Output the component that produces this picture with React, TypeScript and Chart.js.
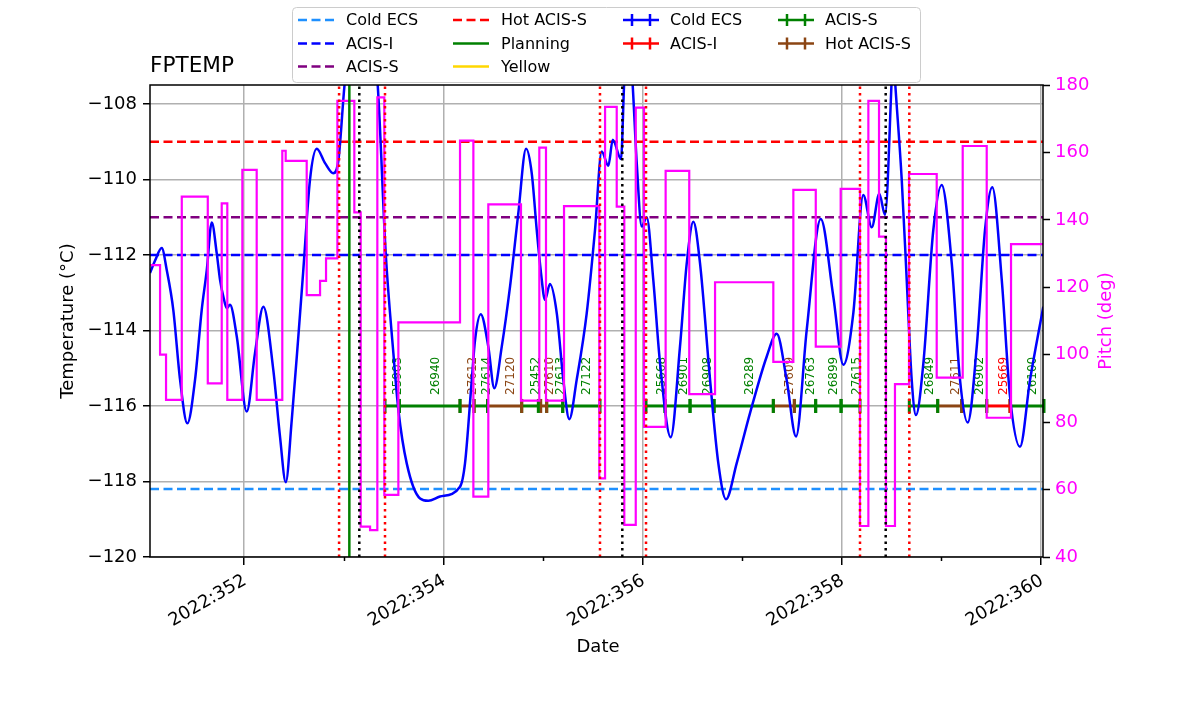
import React, { useEffect, useRef } from 'react';
import { Chart, registerables } from 'chart.js';

Chart.register(...registerables);
Chart.defaults.font.family = "'DejaVu Sans', sans-serif";

// ---- axis ranges & ticks ----
const X_MIN = 351.056;
const X_MAX = 360.02;
const TEMP_MIN = -120;
const TEMP_MAX = -107.5;
const PITCH_MIN = 40;
const PITCH_MAX = 180;
const xTickValues = [352, 353, 354, 355, 356, 357, 358, 359, 360];
const tempTickValues = [-120, -118, -116, -114, -112, -110, -108];
const pitchTickValues = [40, 60, 80, 100, 120, 140, 160, 180];

// ---- FPTEMP (day of year 2022) ----
const tempDays = [
  351.056, 351.107, 351.174, 351.224, 351.290, 351.358, 351.431, 351.508, 351.575, 351.626,
  351.676, 351.726, 351.759, 351.792, 351.826, 351.859, 351.927, 352.027, 352.110, 352.194,
  352.294, 352.361, 352.419, 352.479, 352.545, 352.595, 352.662, 352.730, 352.813, 352.896,
  352.947, 353.014, 353.174, 353.338, 353.422, 353.499, 353.549, 353.633, 353.767, 353.850,
  353.967, 354.168, 354.218, 354.286, 354.319, 354.376, 354.452, 354.512, 354.587, 354.670,
  354.753, 354.831, 354.888, 354.938, 354.981, 355.021, 355.071, 355.139, 355.205, 355.265,
  355.339, 355.440, 355.523, 355.590, 355.657, 355.701, 355.784, 355.817, 355.854, 355.898,
  355.942, 355.992, 356.042, 356.108, 356.176, 356.283, 356.376, 356.444, 356.510, 356.577,
  356.678, 356.761, 356.838, 356.945, 357.079, 357.247, 357.347, 357.447, 357.541, 357.648,
  357.789, 357.915, 358.016, 358.116, 358.216, 358.301, 358.377, 358.434, 358.501, 358.514,
  358.534, 358.602, 358.652, 358.702, 358.745, 358.819, 358.919, 359.003, 359.104, 359.187,
  359.264, 359.355, 359.438, 359.511, 359.606, 359.689, 359.789, 359.890, 360.023,
];
const tempValues = [
  -112.48, -112.15, -111.82, -112.40, -113.46, -115.31, -116.46, -115.31, -113.46, -112.40,
  -111.14, -111.96, -112.66, -113.10, -113.41, -113.32, -114.16, -116.15, -114.60, -113.37,
  -115.05, -116.81, -118.02, -116.37, -114.16, -112.40, -110.01, -109.19, -109.57, -109.84,
  -109.50, -107.36, -105.0, -107.36, -111.95, -114.60, -116.10, -117.52, -118.45, -118.51,
  -118.40, -118.14, -117.52, -115.31, -114.25, -113.57, -114.43, -115.53, -114.43, -112.84,
  -110.90, -109.19, -109.84, -111.34, -112.48, -113.19, -112.77, -113.54, -115.31, -116.35,
  -115.31, -113.54, -111.34, -109.26, -109.64, -108.95, -109.46, -107.36, -106.0, -107.36,
  -109.57, -111.25, -111.00, -112.66, -114.87, -116.83, -114.43, -112.22, -111.12, -112.22,
  -115.31, -117.52, -118.47, -117.52, -116.19, -114.69, -114.09, -115.31, -116.81, -113.99,
  -111.05, -113.10, -114.91, -113.54, -110.41, -111.27, -110.38, -110.94, -107.36, -106.5,
  -107.36, -110.01, -112.66, -115.31, -116.24, -114.87, -111.34, -110.15, -112.22, -115.31,
  -116.44, -114.43, -111.34, -110.21, -112.66, -115.75, -117.08, -115.31, -113.37,
];

// ---- Pitch (deg), step starts ----
const pitchDays = [
  351.06, 351.157, 351.217, 351.375, 351.636, 351.776, 351.832, 351.983, 352.127, 352.384,
  352.418, 352.629, 352.763, 352.823, 352.937, 353.107, 353.171, 353.265, 353.338, 353.408,
  353.549, 354.168, 354.302, 354.452, 354.780, 354.964, 355.031, 355.212, 355.566, 355.624,
  355.741, 355.817, 355.932, 356.015, 356.232, 356.469, 356.728, 357.313, 357.514, 357.739,
  357.989, 358.183, 358.267, 358.374, 358.444, 358.534, 358.675, 358.953, 359.214, 359.455,
  359.699, 360.03,
];
const pitchValues = [
  126.6, 100.0, 86.6, 146.9, 91.5, 144.9, 86.6, 154.8, 86.6, 160.5,
  157.5, 117.7, 121.9, 128.6, 175.3, 142.2, 49.0, 48.0, 176.3, 58.4,
  109.6, 163.5, 57.9, 144.6, 86.4, 161.4, 86.4, 144.1, 63.3, 173.5,
  143.9, 49.5, 173.3, 78.6, 154.5, 88.3, 121.5, 97.9, 148.9, 102.4,
  149.2, 49.2, 175.3, 135.0, 49.2, 91.3, 153.6, 93.2, 161.9, 81.3,
  132.8, 132.9,
];

// ---- limit lines ----
const limitNames = ['Cold ECS', 'ACIS-I', 'ACIS-S', 'Hot ACIS-S'];
const limitValues = [-118.2, -112.0, -111.0, -109.0];
const limitColors = ['#1E90FF', '#0000FF', '#800080', '#FF0000'];

// ---- vertical markers ----
const radZoneDays = [352.954, 353.415, 355.573, 356.035, 358.183, 358.678];
const perigeeDays = [353.157, 355.797, 358.441];
const planningDays = [353.057];

// ---- observations ----
const obsidIds = [
  '25903', '26940', '27612', '27614', '27120', '25452', '27610', '27613', '27122', '25668',
  '26901', '26908', '26289', '27609', '26763', '26899', '27615', '26849', '27611', '26902',
  '25669', '26100',
];
const obsidStarts = [
  353.415, 353.559, 354.168, 354.309, 354.444, 354.787, 354.978, 355.038, 355.199, 356.035,
  356.226, 356.477, 356.718, 357.313, 357.524, 357.738, 357.993, 358.678, 358.963, 359.204,
  359.455, 359.689,
];
const obsidStops = [
  353.559, 354.168, 354.309, 354.444, 354.787, 354.954, 355.038, 355.199, 355.573, 356.226,
  356.477, 356.718, 357.313, 357.524, 357.738, 357.993, 358.183, 358.963, 359.204, 359.455,
  359.689, 360.03,
];
const obsidModes = [
  'ACIS-S', 'ACIS-S', 'Hot ACIS-S', 'ACIS-S', 'Hot ACIS-S', 'ACIS-S', 'Hot ACIS-S', 'ACIS-S', 'ACIS-S', 'ACIS-S',
  'ACIS-S', 'ACIS-S', 'ACIS-S', 'Hot ACIS-S', 'ACIS-S', 'ACIS-S', 'ACIS-S', 'ACIS-S', 'Hot ACIS-S', 'ACIS-S',
  'ACIS-I', 'ACIS-S',
];
const OBSID_LEVEL = -116;
const modeNames = ['Cold ECS', 'ACIS-I', 'ACIS-S', 'Hot ACIS-S'];
const modeColors = ['#0000FF', '#FF0000', '#008000', '#8B4513'];
const modeColor = (m: string) => modeColors[modeNames.indexOf(m)];

// ---- legend ----
const legendColumns = [
  [
    { label: 'Cold ECS', color: '#1E90FF', kind: 'dash' },
    { label: 'ACIS-I', color: '#0000FF', kind: 'dash' },
    { label: 'ACIS-S', color: '#800080', kind: 'dash' },
  ],
  [
    { label: 'Hot ACIS-S', color: '#FF0000', kind: 'dash' },
    { label: 'Planning', color: '#008000', kind: 'solid' },
    { label: 'Yellow', color: '#FFD700', kind: 'solid' },
  ],
  [
    { label: 'Cold ECS', color: '#0000FF', kind: 'err' },
    { label: 'ACIS-I', color: '#FF0000', kind: 'err' },
  ],
  [
    { label: 'ACIS-S', color: '#008000', kind: 'err' },
    { label: 'Hot ACIS-S', color: '#8B4513', kind: 'err' },
  ],
];

const FONT = "'DejaVu Sans', sans-serif";
const isMajorX = (v: number) => Math.round(v) % 2 === 0;

const decorPlugin = {
  id: 'decor',
  beforeDatasetsDraw(chart: any) {
    const { ctx, scales } = chart;
    const xs = scales.x;
    const ys = scales.y;
    ctx.save();
    ctx.font = `12px ${FONT}`;
    ctx.textAlign = 'left';
    ctx.textBaseline = 'middle';
    obsidIds.forEach((id, i) => {
      const mid = (obsidStarts[i] + obsidStops[i]) / 2;
      const px = xs.getPixelForValue(mid) + 6;
      const py = ys.getPixelForValue(OBSID_LEVEL) - 11;
      ctx.save();
      ctx.translate(px, py);
      ctx.rotate(-Math.PI / 2);
      ctx.fillStyle = modeColor(obsidModes[i]);
      ctx.fillText(id, 0, 0);
      ctx.restore();
    });
    ctx.restore();
  },
  afterDatasetsDraw(chart: any) {
    const { ctx, chartArea, scales } = chart;
    ctx.save();
    ctx.strokeStyle = '#000';
    ctx.lineWidth = 1.5;
    ctx.strokeRect(chartArea.left, chartArea.top, chartArea.right - chartArea.left, chartArea.bottom - chartArea.top);
    // minor x ticks (shorter)
    xTickValues.forEach((v) => {
      if (isMajorX(v)) return;
      const px = Math.round(scales.x.getPixelForValue(v)) + 0.5;
      ctx.beginPath();
      ctx.moveTo(px, chartArea.bottom);
      ctx.lineTo(px, chartArea.bottom + 4);
      ctx.stroke();
    });
    ctx.restore();
  },
  afterDraw(chart: any) {
    const { ctx } = chart;
    ctx.save();
    // title
    ctx.fillStyle = '#000';
    ctx.font = `21.6px ${FONT}`;
    ctx.textAlign = 'left';
    ctx.textBaseline = 'alphabetic';
    ctx.fillText('FPTEMP', 150, 72);
    // axis titles
    ctx.font = `18px ${FONT}`;
    ctx.textAlign = 'center';
    ctx.textBaseline = 'middle';
    ctx.fillText('Date', 598, 647);
    ctx.save();
    ctx.translate(68, 321);
    ctx.rotate(-Math.PI / 2);
    ctx.fillText('Temperature (°C)', 0, 0);
    ctx.restore();
    ctx.save();
    ctx.translate(1106, 321);
    ctx.rotate(-Math.PI / 2);
    ctx.fillStyle = '#FF00FF';
    ctx.fillText('Pitch (deg)', 0, 0);
    ctx.restore();

    // legend
    const bx = 292.5, by = 7.5, bw = 628, bh = 75;
    ctx.beginPath();
    const r = 4;
    ctx.moveTo(bx + r, by);
    ctx.lineTo(bx + bw - r, by);
    ctx.quadraticCurveTo(bx + bw, by, bx + bw, by + r);
    ctx.lineTo(bx + bw, by + bh - r);
    ctx.quadraticCurveTo(bx + bw, by + bh, bx + bw - r, by + bh);
    ctx.lineTo(bx + r, by + bh);
    ctx.quadraticCurveTo(bx, by + bh, bx, by + bh - r);
    ctx.lineTo(bx, by + r);
    ctx.quadraticCurveTo(bx, by, bx + r, by);
    ctx.closePath();
    ctx.fillStyle = 'rgba(255,255,255,0.85)';
    ctx.fill();
    ctx.strokeStyle = '#cccccc';
    ctx.lineWidth = 1;
    ctx.stroke();

    const handleX = [298, 453, 623, 778];
    const textX = [346, 501, 670, 825];
    const rowY = [20, 43.5, 66.5];
    const hl = 36;
    ctx.font = `16px ${FONT}`;
    ctx.textAlign = 'left';
    ctx.textBaseline = 'middle';
    legendColumns.forEach((col, ci) => {
      col.forEach((it, ri) => {
        const y = rowY[ri];
        const x0 = handleX[ci];
        ctx.strokeStyle = it.color;
        ctx.lineWidth = 2.5;
        ctx.setLineDash(it.kind === 'dash' ? [9, 4.5] : []);
        ctx.beginPath();
        ctx.moveTo(x0, y);
        ctx.lineTo(x0 + hl, y);
        ctx.stroke();
        ctx.setLineDash([]);
        if (it.kind === 'err') {
          [0.25, 0.75].forEach((f) => {
            ctx.beginPath();
            ctx.moveTo(x0 + hl * f, y - 6);
            ctx.lineTo(x0 + hl * f, y + 6);
            ctx.stroke();
          });
        }
        ctx.fillStyle = '#000';
        ctx.fillText(it.label, textX[ci], y + 1);
      });
    });
    ctx.restore();
  },
};

function buildDatasets() {
  const ds: any[] = [];
  radZoneDays.forEach((d) =>
    ds.push({
      data: [{ x: d, y: TEMP_MIN }, { x: d, y: TEMP_MAX }],
      borderColor: '#FF0000', borderWidth: 2.5, borderDash: [2.5, 4], pointRadius: 0,
      yAxisID: 'y', order: 1, clip: 0,
    })
  );
  perigeeDays.forEach((d) =>
    ds.push({
      data: [{ x: d, y: TEMP_MIN }, { x: d, y: TEMP_MAX }],
      borderColor: '#000000', borderWidth: 2.5, borderDash: [2.5, 4], pointRadius: 0,
      yAxisID: 'y', order: 1, clip: 0,
    })
  );
  planningDays.forEach((d) =>
    ds.push({
      data: [{ x: d, y: TEMP_MIN }, { x: d, y: TEMP_MAX }],
      borderColor: '#008000', borderWidth: 2.5, pointRadius: 0,
      yAxisID: 'y', order: 1, clip: 0,
    })
  );
  ds.push({
    label: 'Pitch',
    data: pitchDays.map((d, i) => ({ x: d, y: pitchValues[i] })),
    borderColor: '#FF00FF', borderWidth: 2.2, pointRadius: 0, stepped: 'before',
    yAxisID: 'y1', order: 2, clip: 0,
  });
  ds.push({
    label: 'FPTEMP',
    data: tempDays.map((d, i) => ({ x: d, y: tempValues[i] })),
    borderColor: '#0000FF', borderWidth: 2.5, pointRadius: 0, cubicInterpolationMode: 'monotone',
    yAxisID: 'y', order: 3, clip: 0,
  });
  limitNames.forEach((n, i) =>
    ds.push({
      label: n,
      data: [{ x: X_MIN, y: limitValues[i] }, { x: X_MAX, y: limitValues[i] }],
      borderColor: limitColors[i], borderWidth: 2.5, borderDash: [9, 4.5], pointRadius: 0,
      yAxisID: 'y', order: 4, clip: 0,
    })
  );
  obsidIds.forEach((id, i) => {
    const c = modeColor(obsidModes[i]);
    ds.push({
      label: id,
      data: [{ x: obsidStarts[i], y: OBSID_LEVEL }, { x: obsidStops[i], y: OBSID_LEVEL }],
      borderColor: c, borderWidth: 3, pointStyle: 'line', pointRotation: 90, pointRadius: 7,
      pointBorderWidth: 3, pointBorderColor: c, yAxisID: 'y', order: 5, clip: 8,
    });
  });
  return ds;
}

export default function App() {
  const ref = useRef<HTMLCanvasElement | null>(null);
  useEffect(() => {
    if (!ref.current) return;
    const chart = new Chart(ref.current, {
      type: 'line',
      data: { datasets: buildDatasets() },
      plugins: [decorPlugin],
      options: {
        responsive: false,
        animation: false,
        layout: { padding: { top: 85, left: 0, right: 0, bottom: 0 } },
        plugins: { legend: { display: false }, tooltip: { enabled: false }, title: { display: false } },
        scales: {
          x: {
            type: 'linear',
            min: X_MIN,
            max: X_MAX,
            afterBuildTicks: (s: any) => { s.ticks = xTickValues.map((v) => ({ value: v })); },
            afterFit: (s: any) => { s.height = 157; },
            ticks: {
              autoSkip: false, minRotation: 30, maxRotation: 30, color: '#000', padding: 5,
              labelOffset: 1,
              font: { size: 18 },
              callback: (v: any) => (isMajorX(Number(v)) ? '2022:' + v : ''),
            },
            grid: {
              color: (c: any) => (c.tick && isMajorX(c.tick.value) ? '#b0b0b0' : 'rgba(0,0,0,0)'),
              lineWidth: 1.5,
              tickColor: (c: any) => (c.tick && isMajorX(c.tick.value) ? '#000' : 'rgba(0,0,0,0)'),
              tickLength: 8, tickWidth: 1.5,
            },
            border: { display: false },
          },
          y: {
            type: 'linear',
            position: 'left',
            min: TEMP_MIN,
            max: TEMP_MAX,
            afterBuildTicks: (s: any) => { s.ticks = tempTickValues.map((v) => ({ value: v })); },
            afterFit: (s: any) => { s.width = 150; },
            ticks: {
              color: '#000', padding: 6, font: { size: 18 },
              callback: (v: any) => (Number(v) < 0 ? '\u2212' : '') + Math.abs(Number(v)),
            },
            grid: { color: '#b0b0b0', lineWidth: 1.5, tickColor: '#000', tickLength: 7, tickWidth: 1.5 },
            border: { display: false },
          },
          y1: {
            type: 'linear',
            position: 'right',
            min: PITCH_MIN,
            max: PITCH_MAX,
            afterBuildTicks: (s: any) => { s.ticks = pitchTickValues.map((v) => ({ value: v })); },
            afterFit: (s: any) => { s.width = 157; },
            ticks: { color: '#FF00FF', padding: 5, font: { size: 18 } },
            grid: { drawOnChartArea: false, tickColor: '#000', tickLength: 7, tickWidth: 1.5 },
            border: { display: false },
          },
        },
      } as any,
    });
    return () => chart.destroy();
  }, []);
  return (
    <div style={{ position: 'fixed', left: 0, top: 0, width: 1200, height: 714, background: '#fff' }}>
      <canvas ref={ref} width={1200} height={714} style={{ display: 'block' }} />
    </div>
  );
}
